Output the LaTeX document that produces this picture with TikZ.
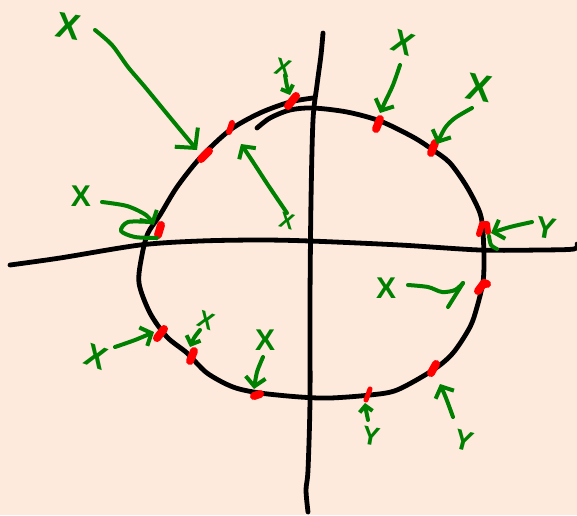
\documentclass[tikz,border=0pt]{standalone}
\usepackage{fontspec}
\setmainfont{Liberation Sans}
\usetikzlibrary{arrows.meta}
\definecolor{bg}{RGB}{253,234,221}
\definecolor{grn}{RGB}{0,128,0}
\definecolor{rd}{RGB}{255,0,0}
\tikzset{
  axis/.style={draw=black,line width=4.8pt,line cap=round,line join=round},
  curve/.style={draw=black,line width=4.8pt,line cap=round,line join=round},
  redmark/.style={draw=rd,line width=8pt,line cap=round,line join=round},
  garrow/.style={draw=grn,line width=4pt,line cap=round,line join=round,
     -{Straight Barb[length=9pt,width=20pt,line width=4pt]}},
  gline/.style={draw=grn,line width=4pt,line cap=round,line join=round},
  lbl/.style={text=grn,inner sep=0pt,font=\bfseries},
}
\newcommand{\fsz}[1]{\fontsize{#1}{#1}\selectfont}
\begin{document}
\begin{tikzpicture}[x=1pt,y=-1pt]
\fill[bg] (0,0) rectangle (577,515);
\useasboundingbox (0,0) rectangle (577,515);

% axes
\draw[axis] plot[smooth] coordinates {(10,265)(60,258)(140,245)(200,241)(260,240)(310,241)(400,245)(480,250)(540,250)(574,249)(577,244)};
\draw[axis] plot[smooth] coordinates {(323,33)(321,55)(317,85)(313,120)(311,200)(310,300)(310,400)(308,470)(306,490)(308,512)};

% main closed curve (overlapping at top)
\draw[curve] plot[smooth] coordinates {(257,128)(270,118)(290,110)(313,108)(347,112)(380,121)(413,137)(433,150)(450,163)(467,187)(480,213)(483,233)(484,260)(483,282)(477,307)(470,327)(453,353)(433,370)(397,390)(370,395)(330,398)(300,397)(260,393)(233,387)(207,373)(187,353)(167,337)(150,313)(139,283)(142,255)(148,233)(160,215)(177,187)(200,158)(230,130)(260,113)(290,102)(313,98)};

% red marks
\coordinate (m1) at (292,101);
\coordinate (m2) at (230,128);
\coordinate (m3) at (205,155);
\coordinate (m4) at (160,230);
\coordinate (m5) at (378,124);
\coordinate (m6) at (433,148);
\coordinate (m7) at (484,228);
\coordinate (m8) at (482,287);
\coordinate (m9) at (433,369);
\coordinate (m10) at (368,395);
\coordinate (m11) at (160,334);
\coordinate (m12) at (192,356);
\coordinate (m13) at (257,395);
\draw[redmark] (288,106)--(296,96);
\draw[redmark,line width=6pt] (229,132)--(232,123);
\draw[redmark] (201,159)--(209,151);
\draw[redmark] (158,235)--(161,225);
\draw[redmark] (376,129)--(380,119);
\draw[redmark] (431,153)--(435,143);
\draw[redmark,line width=6pt] (479,234)--(482,224)--(487,224)--(488,232);
\draw[redmark] (478,291)--(484,283)--(487,284);
\draw[redmark] (431,373)--(436,364);
\draw[redmark,line width=5pt] (366,400)--(370,389);
\draw[redmark] (157,338)--(164,329);
\draw[redmark] (190,361)--(194,351);
\draw[redmark] (254,396)--(260,394);

% labels
\node[lbl,rotate=-10] (XA) at (68,26) {\fsz{36}X};
\node[lbl,rotate=-15] (XB) at (283,68) {\fsz{24}X};
\node[lbl] (XC) at (81,196) {\fsz{30}X};
\node[lbl,rotate=-15] (XD) at (287,221) {\fsz{22}X};
\node[lbl,rotate=-20] (XE) at (403,43) {\fsz{32}X};
\node[lbl,rotate=-10] (XF) at (479,88) {\fsz{38}X};
\node[lbl,rotate=-10] (YG) at (546,228) {\fsz{30}Y};
\node[lbl] (XH) at (386,288) {\fsz{30}X};
\node[lbl,rotate=-15] (YI) at (464,441) {\fsz{28}Y};
\node[lbl,rotate=-10] (YJ) at (371,436) {\fsz{26}Y};
\node[lbl,rotate=-20] (XK) at (96,357) {\fsz{32}X};
\node[lbl,rotate=-20] (XL) at (206,320) {\fsz{24}X};
\node[lbl] (XM) at (265,340) {\fsz{30}X};

% arrows
\draw[garrow,-{Straight Barb[length=14pt,width=30pt,line width=4pt]}] plot[smooth] coordinates {(95,30)(112,45)(128,67)(145,87)(168,115)(197,150)};
\draw[garrow,-{Straight Barb[length=6pt,width=13pt,line width=4pt]}] plot[smooth] coordinates {(285,75)(287,86)(290,95)};
\draw[garrow] plot[smooth] coordinates {(102,202)(127,206)(146,215)(154,225)};
\draw[gline] plot[smooth] coordinates {(150,222)(128,222)(121,231)(135,237)(157,238)};
\draw[garrow] plot[smooth] coordinates {(287,213)(268,185)(255,165)(241,144)};
\draw[garrow] plot[smooth] coordinates {(400,65)(393,85)(385,102)(380,113)};
\draw[garrow] plot[smooth] coordinates {(472,108)(455,118)(445,128)(437,144)};
\draw[garrow] plot[smooth] coordinates {(532,222)(510,227)(491,233)};
\draw[gline] plot[smooth] coordinates {(489,236)(491,245)(497,249)};
\draw[gline] plot[smooth] coordinates {(408,285)(428,287)(442,292)(455,290)(463,283)};
\draw[gline] (463,283)--(448,307);
\draw[garrow] plot[smooth] coordinates {(453,417)(446,398)(440,384)};
\draw[garrow,-{Straight Barb[length=6pt,width=13pt,line width=4pt]}] plot[smooth] coordinates {(368,420)(366,410)(365,403)};
\draw[garrow] plot[smooth] coordinates {(115,347)(135,340)(154,332)};
\draw[garrow,-{Straight Barb[length=7pt,width=15pt,line width=4pt]}] plot[smooth] coordinates {(200,330)(194,338)(190,347)};
\draw[garrow] plot[smooth] coordinates {(263,357)(257,372)(254,389)};
\end{tikzpicture}
\end{document}
